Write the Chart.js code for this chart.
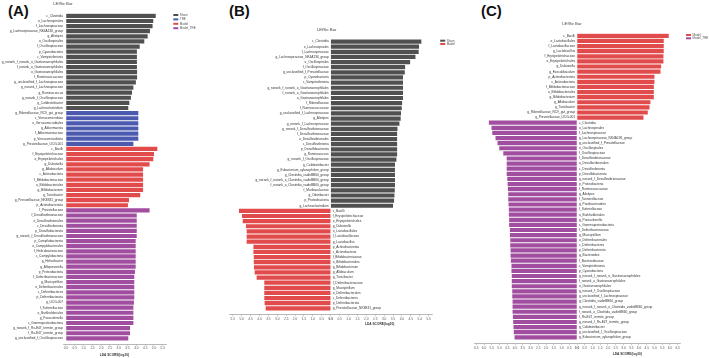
<!DOCTYPE html>
<html lang="en">
<head>
<meta charset="UTF-8">
<title>LEfSe Bar</title>
<script src="https://cdn.jsdelivr.net/npm/chart.js@4"></script>
<style>
  html, body { margin: 0; padding: 0; background: #fff; }
  #wrap { position: relative; width: 709px; height: 358px; overflow: hidden; font-family: "Liberation Sans", Arial, sans-serif; }
  #wrap canvas { position: absolute; left: 0; top: 0; }
  .tag { position: absolute; font-weight: bold; font-size: 15px; line-height: 15px; color: #111; }
</style>
</head>
<body>
<div id="wrap">
  <div class="tag" style="left:8px;top:3px">(A)</div>
  <div class="tag" style="left:229px;top:3px">(B)</div>
  <div class="tag" style="left:481px;top:3px">(C)</div>
  <canvas id="chartA" width="709" height="358"></canvas>
  <canvas id="chartB" width="709" height="358"></canvas>
  <canvas id="chartC" width="709" height="358"></canvas>
</div>

<script>
// ---- panel A : four groups ----
const aShamLabels = ['c_Clostridia', 'o_Lachnospirales', 'f_Lachnospiraceae', 'g_Lachnospiraceae_NK4A136_group', 'g_Alistipes',
  'o_Oscillospirales', 'f_Oscillospiraceae', 'p_Cyanobacteria', 'c_Vampirivibrionia', 'g_norank_f_norank_o_Gastranaerophilales',
  'f_norank_o_Gastranaerophilales', 'o_Gastranaerophilales', 'f_Ruminococcaceae', 'g_unclassified_f_Lachnospiraceae',
  'g_norank_f_Lachnospiraceae', 'g_Ruminococcus', 'g_norank_f_Oscillospiraceae', 'g_Colidextribacter', 'g_Lachnoclostridium'];
const aShamValues = [5.1, 4.96, 4.92, 4.77, 4.64, 4.45, 4.19, 4.03, 4.03, 4.03, 4.03, 4.04, 4.04, 3.97, 3.83, 3.75, 3.69, 3.6, 3.54];

const aTreLabels = ['g_Rikenellaceae_RC9_gut_group', 'c_Verrucomicrobiae', 'o_Verrucomicrobiales', 'g_Akkermansia',
  'f_Akkermansiaceae', 'p_Verrucomicrobiota', 'g_Prevotellaceae_UCG-001'];
const aTreValues = [4.11, 4.11, 4.11, 4.11, 4.11, 4.11, 3.83];

const aModelLabels = ['c_Bacilli', 'f_Erysipelotrichaceae', 'o_Erysipelotrichales', 'g_Dubosiella', 'g_Allobaculum',
  'c_Actinobacteria', 'f_Bifidobacteriaceae', 'o_Bifidobacteriales', 'g_Bifidobacterium', 'g_Turicibacter',
  'g_Prevotellaceae_NK3B31_group', 'p_Actinobacteriota'];
const aModelValues = [5.19, 5.0, 4.96, 4.75, 4.38, 4.38, 4.38, 4.38, 4.38, 4.22, 3.58, 3.52];

const aModelTreLabels = ['f_Prevotellaceae', 'f_Desulfovibrionaceae', 'o_Desulfovibrionales', 'c_Desulfovibrionia',
  'p_Desulfobacterota', 'g_norank_f_Desulfovibrionaceae', 'p_Campilobacterota', 'o_Campylobacterales', 'f_Helicobacteraceae',
  'c_Campylobacteria', 'g_Helicobacter', 'g_Alloprevotella', 'p_Proteobacteria', 'f_Deferribacteraceae', 'g_Mucispirillum',
  'o_Deferribacterales', 'c_Deferribacteres', 'p_Deferribacterota', 'g_UCG-007', 'f_Sutterellaceae', 'o_Burkholderiales',
  'g_Parasutterella', 'c_Gammaproteobacteria', 'g_norank_f_Rs-E47_termite_group', 'f_Rs-E47_termite_group',
  'g_unclassified_f_Oscillospiraceae'];
const aModelTreValues = [4.75, 4.02, 4.02, 4.02, 4.02, 4.02, 3.96, 3.96, 3.96, 3.96, 3.96, 3.96, 3.92, 3.88, 3.88,
  3.88, 3.88, 3.88, 3.86, 3.83, 3.83, 3.83, 3.83, 3.64, 3.64, 3.54];

// ---- panel B : Sham vs Model ----
const bShamLabels = ['c_Clostridia', 'o_Lachnospirales', 'f_Lachnospiraceae', 'g_Lachnospiraceae_NK4A136_group',
  'o_Oscillospirales', 'f_Oscillospiraceae', 'g_unclassified_f_Prevotellaceae', 'p_Cyanobacteria', 'c_Vampirivibrionia',
  'g_norank_f_norank_o_Gastranaerophilales', 'f_norank_o_Gastranaerophilales', 'o_Gastranaerophilales', 'f_Rikenellaceae',
  'f_Ruminococcaceae', 'g_unclassified_f_Lachnospiraceae', 'g_Alistipes', 'g_norank_f_Lachnospiraceae',
  'g_norank_f_Desulfovibrionaceae', 'f_Desulfovibrionaceae', 'o_Desulfovibrionales', 'c_Desulfovibrionia', 'p_Desulfobacterota',
  'g_Ruminococcus', 'g_norank_f_Oscillospiraceae', 'g_Colidextribacter', 'g_Eubacterium_xylanophilum_group',
  'g_Clostridia_vadinBB60_group', 'g_norank_f_norank_o_Clostridia_vadinBB60_group', 'f_norank_o_Clostridia_vadinBB60_group',
  'f_Muribaculaceae', 'g_Odoribacter', 'p_Proteobacteria', 'g_Lachnoclostridium'];
const bShamValues = [5.09, 4.96, 4.94, 4.76, 4.46, 4.18, 4.16, 4.06, 4.06, 4.06, 4.06, 4.06, 4.01, 3.99, 3.95, 3.93, 3.86,
  3.75, 3.73, 3.73, 3.73, 3.73, 3.73, 3.69, 3.61, 3.61, 3.61, 3.61, 3.61, 3.6, 3.58, 3.56, 3.5];

const bModelLabels = ['c_Bacilli', 'f_Erysipelotrichaceae', 'o_Erysipelotrichales', 'g_Dubosiella', 'o_Lactobacillales',
  'f_Lactobacillaceae', 'g_Lactobacillus', 'p_Actinobacteriota', 'c_Actinobacteria', 'f_Bifidobacteriaceae',
  'o_Bifidobacteriales', 'g_Bifidobacterium', 'g_Allobaculum', 'g_Turicibacter', 'f_Deferribacteraceae', 'g_Mucispirillum',
  'o_Deferribacterales', 'c_Deferribacteres', 'p_Deferribacterota', 'g_Prevotellaceae_NK3B31_group'];
const bModelValues = [5.15, 4.98, 4.94, 4.76, 4.72, 4.72, 4.72, 4.34, 4.34, 4.32, 4.32, 4.31, 4.27, 4.16, 3.73, 3.73,
  3.73, 3.73, 3.71, 3.65];

// ---- panel C : Model vs Model_TRE ----
const cModelLabels = ['c_Bacilli', 'o_Lactobacillales', 'f_Lactobacillaceae', 'g_Lactobacillus', 'f_Erysipelotrichaceae',
  'o_Erysipelotrichales', 'g_Dubosiella', 'g_Faecalibaculum', 'p_Actinobacteriota', 'c_Actinobacteria',
  'f_Bifidobacteriaceae', 'o_Bifidobacteriales', 'g_Bifidobacterium', 'g_Allobaculum', 'g_Turicibacter',
  'g_Rikenellaceae_RC9_gut_group', 'g_Prevotellaceae_UCG-001'];
const cModelValues = [5.92, 5.6, 5.6, 5.6, 5.58, 5.58, 5.43, 5.39, 5.0, 5.0, 4.96, 4.96, 4.96, 4.74, 4.68, 4.57, 4.29];

const cModelTreLabels = ['c_Clostridia', 'o_Lachnospirales', 'f_Lachnospiraceae', 'g_Lachnospiraceae_NK4A136_group',
  'g_unclassified_f_Prevotellaceae', 'o_Oscillospirales', 'f_Oscillospiraceae', 'f_Desulfovibrionaceae',
  'o_Desulfovibrionales', 'c_Desulfovibrionia', 'p_Desulfobacterota', 'g_norank_f_Desulfovibrionaceae', 'p_Proteobacteria',
  'f_Ruminococcaceae', 'g_Alistipes', 'f_Tannerellaceae', 'g_Parabacteroides', 'f_Sutterellaceae', 'o_Burkholderiales',
  'g_Parasutterella', 'c_Gammaproteobacteria', 'f_Deferribacteraceae', 'g_Mucispirillum', 'o_Deferribacterales',
  'c_Deferribacteres', 'p_Deferribacterota', 'g_Bacteroides', 'f_Bacteroidaceae', 'c_Vampirivibrionia', 'p_Cyanobacteria',
  'g_norank_f_norank_o_Gastranaerophilales', 'f_norank_o_Gastranaerophilales', 'o_Gastranaerophilales',
  'g_norank_f_Oscillospiraceae', 'g_unclassified_f_Lachnospiraceae', 'g_Clostridia_vadinBB60_group',
  'g_norank_f_norank_o_Clostridia_vadinBB60_group', 'f_norank_o_Clostridia_vadinBB60_group', 'f_Rs-E47_termite_group',
  'g_norank_f_Rs-E47_termite_group', 'g_Colidextribacter', 'g_unclassified_f_Oscillospiraceae',
  'g_Eubacterium_xylanophilum_group'];
const cModelTreValues = [5.69, 5.52, 5.47, 5.26, 5.13, 5.02, 4.76, 4.54, 4.54, 4.54, 4.54, 4.5, 4.48, 4.46, 4.44, 4.44,
  4.42, 4.4, 4.4, 4.38, 4.38, 4.33, 4.33, 4.31, 4.31, 4.29, 4.29, 4.27, 4.23, 4.23, 4.21, 4.21, 4.21, 4.18, 4.18, 4.16,
  4.16, 4.16, 4.14, 4.12, 4.1, 4.08, 4.03];

// axis ticks
const aTicks = [0, 0.5, 1, 1.5, 2, 2.5, 3, 3.5, 4, 4.5, 5, 5.5];
const bTicks = [-5.5, -5, -4.5, -4, -3.5, -3, -2.5, -2, -1.5, -1, -0.5, 0, 0.5, 1, 1.5, 2, 2.5, 3, 3.5, 4, 4.5, 5, 5.5];
const cTicks = [-6.5, -6, -5.5, -5, -4.5, -4, -3.5, -3, -2.5, -2, -1.5, -1, -0.5, 0, 0.5, 1, 1.5, 2, 2.5, 3, 3.5, 4,
  4.5, 5, 5.5, 6, 6.5];

const colSham = '#505050';
const colTre = '#4b5aaf';
const colModel = '#e24b4b';
const colModelTre = '#a24ea0';
const FONT = '"Liberation Sans", Arial, sans-serif';

// draws taxon names beside the bars, the panel title, axis title and the small legend
const lefsePlugin = {
  id: 'lefse',
  afterDatasetsDraw(chart, args, opts) {
    const ctx = chart.ctx;
    const xs = chart.scales.x;
    const area = chart.chartArea;
    const x0 = xs.getPixelForValue(0);
    ctx.save();
    ctx.font = '3.2px ' + FONT;
    ctx.fillStyle = '#333';
    ctx.textBaseline = 'middle';
    chart.data.datasets.forEach((ds, i) => {
      chart.getDatasetMeta(i).data.forEach((bar, j) => {
        const pos = ds.data[j].x >= 0;
        ctx.textAlign = pos ? 'right' : 'left';
        ctx.fillText(ds.names[j], pos ? x0 - opts.gap : x0 + opts.gap, bar.y);
      });
    });

    // title
    ctx.textAlign = 'center';
    ctx.font = '4.3px ' + FONT;
    ctx.fillStyle = '#444';
    ctx.fillText('LEfSe Bar', x0 + opts.titleDx, area.top - 9);

    // axis title, centred on the positive half
    const last = xs.getPixelForValue(opts.ticks[opts.ticks.length - 1]);
    ctx.font = 'bold 3.2px ' + FONT;
    ctx.fillStyle = '#333';
    ctx.fillText('LDA SCORE(log10)', (x0 + last) / 2, area.bottom + opts.titleGap);

    // legend
    ctx.textAlign = 'left';
    ctx.font = '3px ' + FONT;
    chart.data.datasets.forEach((ds, i) => {
      const lx = area.right + opts.legendDx;
      const ly = area.top + 1.7 + i * opts.legendStep;
      ctx.fillStyle = ds.backgroundColor;
      ctx.fillRect(lx, ly - 1, 5, 2);
      ctx.fillStyle = '#555';
      ctx.fillText(ds.label, lx + 6.5, ly);
    });
    ctx.restore();
  }
};

function makePanel(id, groups, ticks, box, deco) {
  let offset = 0;
  const datasets = groups.map(g => {
    const ds = {
      label: g.name,
      names: g.labels,
      data: g.values.map((v, i) => ({ x: g.dir * v, y: offset + i })),
      backgroundColor: g.color,
      borderWidth: 0,
      grouped: false,
      barPercentage: 0.82,
      categoryPercentage: 1
    };
    offset += g.values.length;
    return ds;
  });
  const axisH = 14;
  new Chart(document.getElementById(id), {
    type: 'bar',
    data: { datasets: datasets },
    plugins: [lefsePlugin],
    options: {
      indexAxis: 'y',
      responsive: false,
      animation: false,
      devicePixelRatio: 1,
      events: [],
      layout: {
        padding: { left: box.left, right: 709 - box.right, top: box.top, bottom: 358 - box.bottom - axisH }
      },
      scales: {
        y: {
          type: 'linear',
          reverse: true,
          min: -0.5,
          max: box.yMax,
          display: false,
          afterBuildTicks: s => { s.ticks = []; }
        },
        x: {
          type: 'linear',
          position: 'bottom',
          min: box.xMin,
          max: box.xMax,
          afterBuildTicks: s => { s.ticks = ticks.map(v => ({ value: v })); },
          afterFit: s => { s.height = axisH; },
          grid: { drawOnChartArea: false, drawTicks: true, tickLength: 2, color: '#999', lineWidth: 0.5 },
          border: { color: '#888', width: 0.6 },
          ticks: {
            autoSkip: false,
            maxRotation: 0,
            padding: 0.5,
            color: '#555',
            font: c => ({ family: FONT, size: 3.2, weight: (deco.boldZero && c.tick && c.tick.value === 0) ? 'bold' : 'normal' }),
            callback: v => Math.abs(v).toFixed(1)
          }
        }
      },
      plugins: {
        legend: { display: false },
        tooltip: { enabled: false },
        lefse: deco
      }
    }
  });
}

makePanel('chartA', [
  { name: 'Sham', color: colSham, labels: aShamLabels, values: aShamValues, dir: 1 },
  { name: 'TRE', color: colTre, labels: aTreLabels, values: aTreValues, dir: 1 },
  { name: 'Model', color: colModel, labels: aModelLabels, values: aModelValues, dir: 1 },
  { name: 'Model_TRE', color: colModelTre, labels: aModelTreLabels, values: aModelTreValues, dir: 1 }
], aTicks,
  { left: 63, right: 166.3, top: 13.3, bottom: 344, xMin: -0.17, xMax: 5.7, yMax: 64.1 },
  { gap: 3, titleDx: -3, titleGap: 11, legendDx: 7, legendStep: 4.4, ticks: aTicks, boldZero: false });

makePanel('chartB', [
  { name: 'Sham', color: colSham, labels: bShamLabels, values: bShamValues, dir: 1 },
  { name: 'Model', color: colModel, labels: bModelLabels, values: bModelValues, dir: -1 }
], bTicks,
  { left: 229.2, right: 432.2, top: 39, bottom: 314.3, xMin: -5.7, xMax: 5.7, yMax: 53.16 },
  { gap: 2, titleDx: -4, titleGap: 10, legendDx: 8, legendStep: 3.3, ticks: bTicks, boldZero: true });

makePanel('chartC', [
  { name: 'Model', color: colModel, labels: cModelLabels, values: cModelValues, dir: 1 },
  { name: 'Model_TRE', color: colModelTre, labels: cModelTreLabels, values: cModelTreValues, dir: -1 }
], cTicks,
  { left: 474, right: 680, top: 33.3, bottom: 343.3, xMin: -6.65, xMax: 6.65, yMax: 60.17 },
  { gap: 2, titleDx: -5, titleGap: 10.7, legendDx: 6, legendStep: 3.3, ticks: cTicks, boldZero: true });
</script>
</body>
</html>
